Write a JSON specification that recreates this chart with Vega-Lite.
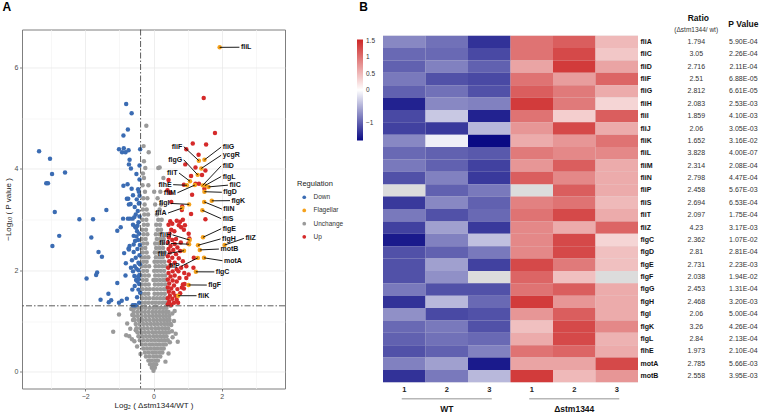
{
"$schema": "https://vega.github.io/schema/vega-lite/v6.json",
"padding": {"left": 1, "top": 0.5, "right": 0, "bottom": 0},
"config": {"font": "Liberation Sans", "view": {"stroke": null}},
"spacing": 12,
"resolve": {"scale": {"color": "independent"}, "legend": {"color": "independent"}},
"datasets": {
"volcano": [
{"x":0,"y":0.02,"reg":"Unchange"},
{"x":-0.05,"y":0.08,"reg":"Unchange"},{"x":0.04,"y":0.08,"reg":"Unchange"},
{"x":-0.1,"y":0.15,"reg":"Unchange"},{"x":0,"y":0.15,"reg":"Unchange"},{"x":0.08,"y":0.15,"reg":"Unchange"},
{"x":-0.15,"y":0.22,"reg":"Unchange"},{"x":-0.05,"y":0.22,"reg":"Unchange"},{"x":0.05,"y":0.22,"reg":"Unchange"},{"x":0.13,"y":0.22,"reg":"Unchange"},
{"x":-0.22,"y":0.3,"reg":"Unchange"},{"x":-0.11,"y":0.3,"reg":"Unchange"},{"x":0,"y":0.3,"reg":"Unchange"},{"x":0.1,"y":0.3,"reg":"Unchange"},{"x":0.2,"y":0.3,"reg":"Unchange"},
{"x":-0.25,"y":0.38,"reg":"Unchange"},{"x":-0.14,"y":0.38,"reg":"Unchange"},{"x":-0.03,"y":0.38,"reg":"Unchange"},{"x":0.07,"y":0.38,"reg":"Unchange"},{"x":0.17,"y":0.38,"reg":"Unchange"},{"x":0.26,"y":0.38,"reg":"Unchange"},
{"x":-0.3,"y":0.46,"reg":"Unchange"},{"x":-0.19,"y":0.46,"reg":"Unchange"},{"x":-0.08,"y":0.46,"reg":"Unchange"},{"x":0.02,"y":0.46,"reg":"Unchange"},{"x":0.12,"y":0.46,"reg":"Unchange"},{"x":0.22,"y":0.46,"reg":"Unchange"},{"x":0.3,"y":0.46,"reg":"Unchange"},
{"x":-0.34,"y":0.54,"reg":"Unchange"},{"x":-0.23,"y":0.54,"reg":"Unchange"},{"x":-0.12,"y":0.54,"reg":"Unchange"},{"x":-0.02,"y":0.54,"reg":"Unchange"},{"x":0.08,"y":0.54,"reg":"Unchange"},{"x":0.18,"y":0.54,"reg":"Unchange"},{"x":0.28,"y":0.54,"reg":"Unchange"},{"x":0.36,"y":0.54,"reg":"Unchange"},
{"x":-0.4,"y":0.62,"reg":"Unchange"},{"x":-0.29,"y":0.62,"reg":"Unchange"},{"x":-0.18,"y":0.62,"reg":"Unchange"},{"x":-0.07,"y":0.62,"reg":"Unchange"},{"x":0.04,"y":0.62,"reg":"Unchange"},{"x":0.14,"y":0.62,"reg":"Unchange"},{"x":0.24,"y":0.62,"reg":"Unchange"},{"x":0.33,"y":0.62,"reg":"Unchange"},{"x":0.42,"y":0.62,"reg":"Unchange"},
{"x":-0.44,"y":0.7,"reg":"Unchange"},{"x":-0.33,"y":0.7,"reg":"Unchange"},{"x":-0.22,"y":0.7,"reg":"Unchange"},{"x":-0.11,"y":0.7,"reg":"Unchange"},{"x":0,"y":0.7,"reg":"Unchange"},{"x":0.1,"y":0.7,"reg":"Unchange"},{"x":0.2,"y":0.7,"reg":"Unchange"},{"x":0.3,"y":0.7,"reg":"Unchange"},{"x":0.38,"y":0.7,"reg":"Unchange"},
{"x":-0.47,"y":0.78,"reg":"Unchange"},{"x":-0.36,"y":0.78,"reg":"Unchange"},{"x":-0.25,"y":0.78,"reg":"Unchange"},{"x":-0.14,"y":0.78,"reg":"Unchange"},{"x":-0.03,"y":0.78,"reg":"Unchange"},{"x":0.07,"y":0.78,"reg":"Unchange"},{"x":0.17,"y":0.78,"reg":"Unchange"},{"x":0.27,"y":0.78,"reg":"Unchange"},{"x":0.36,"y":0.78,"reg":"Unchange"},{"x":0.45,"y":0.78,"reg":"Unchange"},
{"x":-0.5,"y":0.86,"reg":"Unchange"},{"x":-0.39,"y":0.86,"reg":"Unchange"},{"x":-0.28,"y":0.86,"reg":"Unchange"},{"x":-0.17,"y":0.86,"reg":"Unchange"},{"x":-0.06,"y":0.86,"reg":"Unchange"},{"x":0.05,"y":0.86,"reg":"Unchange"},{"x":0.15,"y":0.86,"reg":"Unchange"},{"x":0.25,"y":0.86,"reg":"Unchange"},{"x":0.34,"y":0.86,"reg":"Unchange"},{"x":0.43,"y":0.86,"reg":"Unchange"},
{"x":-0.52,"y":0.94,"reg":"Unchange"},{"x":-0.41,"y":0.94,"reg":"Unchange"},{"x":-0.3,"y":0.94,"reg":"Unchange"},{"x":-0.19,"y":0.94,"reg":"Unchange"},{"x":-0.08,"y":0.94,"reg":"Unchange"},{"x":0.02,"y":0.94,"reg":"Unchange"},{"x":0.12,"y":0.94,"reg":"Unchange"},{"x":0.22,"y":0.94,"reg":"Unchange"},{"x":0.32,"y":0.94,"reg":"Unchange"},{"x":0.41,"y":0.94,"reg":"Unchange"},{"x":0.5,"y":0.94,"reg":"Unchange"},
{"x":-0.55,"y":1.02,"reg":"Unchange"},{"x":-0.44,"y":1.02,"reg":"Unchange"},{"x":-0.33,"y":1.02,"reg":"Unchange"},{"x":-0.22,"y":1.02,"reg":"Unchange"},{"x":-0.11,"y":1.02,"reg":"Unchange"},{"x":0,"y":1.02,"reg":"Unchange"},{"x":0.1,"y":1.02,"reg":"Unchange"},{"x":0.2,"y":1.02,"reg":"Unchange"},{"x":0.3,"y":1.02,"reg":"Unchange"},{"x":0.39,"y":1.02,"reg":"Unchange"},{"x":0.47,"y":1.02,"reg":"Unchange"},
{"x":-0.57,"y":1.1,"reg":"Unchange"},{"x":-0.46,"y":1.1,"reg":"Unchange"},{"x":-0.35,"y":1.1,"reg":"Unchange"},{"x":-0.24,"y":1.1,"reg":"Unchange"},{"x":-0.13,"y":1.1,"reg":"Unchange"},{"x":-0.02,"y":1.1,"reg":"Unchange"},{"x":0.08,"y":1.1,"reg":"Unchange"},{"x":0.18,"y":1.1,"reg":"Unchange"},{"x":0.28,"y":1.1,"reg":"Unchange"},{"x":0.37,"y":1.1,"reg":"Unchange"},{"x":0.46,"y":1.1,"reg":"Unchange"},
{"x":-0.58,"y":1.18,"reg":"Unchange"},{"x":-0.47,"y":1.18,"reg":"Unchange"},{"x":-0.36,"y":1.18,"reg":"Unchange"},{"x":-0.25,"y":1.18,"reg":"Unchange"},{"x":-0.14,"y":1.18,"reg":"Unchange"},{"x":-0.03,"y":1.18,"reg":"Unchange"},{"x":0.07,"y":1.18,"reg":"Unchange"},{"x":0.17,"y":1.18,"reg":"Unchange"},{"x":0.27,"y":1.18,"reg":"Unchange"},{"x":0.36,"y":1.18,"reg":"Unchange"},{"x":0.44,"y":1.18,"reg":"Unchange"},
{"x":-0.56,"y":1.26,"reg":"Unchange"},{"x":-0.45,"y":1.26,"reg":"Unchange"},{"x":-0.34,"y":1.26,"reg":"Unchange"},{"x":-0.23,"y":1.26,"reg":"Unchange"},{"x":-0.12,"y":1.26,"reg":"Unchange"},{"x":-0.01,"y":1.26,"reg":"Unchange"},{"x":0.09,"y":1.26,"reg":"Unchange"},{"x":0.19,"y":1.26,"reg":"Unchange"},{"x":0.29,"y":1.26,"reg":"Unchange"},{"x":0.38,"y":1.26,"reg":"Unchange"},
{"x":-1.18,"y":0.79,"reg":"Unchange"},{"x":-1.01,"y":1.13,"reg":"Unchange"},{"x":-0.77,"y":0.95,"reg":"Unchange"},{"x":-0.71,"y":0.7,"reg":"Unchange"},{"x":-0.56,"y":0.6,"reg":"Unchange"},{"x":-0.62,"y":1.12,"reg":"Unchange"},{"x":-0.8,"y":0.72,"reg":"Unchange"},{"x":-0.63,"y":0.64,"reg":"Unchange"},{"x":-0.68,"y":0.85,"reg":"Unchange"},{"x":-0.65,"y":1.24,"reg":"Unchange"},{"x":-0.6,"y":1.02,"reg":"Unchange"},{"x":-0.52,"y":0.82,"reg":"Unchange"},{"x":-0.48,"y":0.5,"reg":"Unchange"},{"x":0.54,"y":0.8,"reg":"Unchange"},{"x":0.71,"y":0.59,"reg":"Unchange"},{"x":0.56,"y":0.68,"reg":"Unchange"},{"x":0.6,"y":1.0,"reg":"Unchange"},{"x":0.55,"y":1.15,"reg":"Unchange"},{"x":0.52,"y":0.92,"reg":"Unchange"},{"x":0.65,"y":0.75,"reg":"Unchange"},{"x":0.48,"y":0.58,"reg":"Unchange"},{"x":0.44,"y":0.36,"reg":"Unchange"},{"x":0.62,"y":1.2,"reg":"Unchange"},{"x":0.5,"y":1.3,"reg":"Unchange"},{"x":-0.38,"y":0.35,"reg":"Unchange"},{"x":0.35,"y":0.2,"reg":"Unchange"},
{"x":-0.35,"y":1.36,"reg":"Unchange"},{"x":-0.25,"y":1.36,"reg":"Unchange"},{"x":-0.15,"y":1.36,"reg":"Unchange"},{"x":-0.04,"y":1.36,"reg":"Unchange"},{"x":0.06,"y":1.36,"reg":"Unchange"},{"x":0.16,"y":1.36,"reg":"Unchange"},{"x":0.26,"y":1.36,"reg":"Unchange"},{"x":0.36,"y":1.36,"reg":"Unchange"},
{"x":-0.33,"y":1.45,"reg":"Unchange"},{"x":-0.22,"y":1.45,"reg":"Unchange"},{"x":-0.12,"y":1.45,"reg":"Unchange"},{"x":0,"y":1.45,"reg":"Unchange"},{"x":0.1,"y":1.45,"reg":"Unchange"},{"x":0.2,"y":1.45,"reg":"Unchange"},{"x":0.3,"y":1.45,"reg":"Unchange"},{"x":0.39,"y":1.45,"reg":"Unchange"},
{"x":-0.35,"y":1.54,"reg":"Unchange"},{"x":-0.25,"y":1.54,"reg":"Unchange"},{"x":-0.15,"y":1.54,"reg":"Unchange"},{"x":0.03,"y":1.54,"reg":"Unchange"},{"x":0.13,"y":1.54,"reg":"Unchange"},{"x":0.23,"y":1.54,"reg":"Unchange"},{"x":0.33,"y":1.54,"reg":"Unchange"},
{"x":-0.32,"y":1.63,"reg":"Unchange"},{"x":-0.21,"y":1.63,"reg":"Unchange"},{"x":-0.11,"y":1.63,"reg":"Unchange"},{"x":0,"y":1.63,"reg":"Unchange"},{"x":0.1,"y":1.63,"reg":"Unchange"},{"x":0.2,"y":1.63,"reg":"Unchange"},{"x":0.3,"y":1.63,"reg":"Unchange"},{"x":0.38,"y":1.63,"reg":"Unchange"},
{"x":-0.34,"y":1.72,"reg":"Unchange"},{"x":-0.24,"y":1.72,"reg":"Unchange"},{"x":-0.14,"y":1.72,"reg":"Unchange"},{"x":0.04,"y":1.72,"reg":"Unchange"},{"x":0.14,"y":1.72,"reg":"Unchange"},{"x":0.24,"y":1.72,"reg":"Unchange"},{"x":0.34,"y":1.72,"reg":"Unchange"},
{"x":-0.31,"y":1.81,"reg":"Unchange"},{"x":-0.2,"y":1.81,"reg":"Unchange"},{"x":0,"y":1.81,"reg":"Unchange"},{"x":0.09,"y":1.81,"reg":"Unchange"},{"x":0.19,"y":1.81,"reg":"Unchange"},{"x":0.29,"y":1.81,"reg":"Unchange"},{"x":0.37,"y":1.81,"reg":"Unchange"},
{"x":-0.35,"y":1.9,"reg":"Unchange"},{"x":-0.25,"y":1.9,"reg":"Unchange"},{"x":-0.14,"y":1.9,"reg":"Unchange"},{"x":0.05,"y":1.9,"reg":"Unchange"},{"x":0.15,"y":1.9,"reg":"Unchange"},{"x":0.25,"y":1.9,"reg":"Unchange"},{"x":0.34,"y":1.9,"reg":"Unchange"},
{"x":-0.3,"y":1.99,"reg":"Unchange"},{"x":-0.19,"y":1.99,"reg":"Unchange"},{"x":0.02,"y":1.99,"reg":"Unchange"},{"x":0.11,"y":1.99,"reg":"Unchange"},{"x":0.21,"y":1.99,"reg":"Unchange"},{"x":0.31,"y":1.99,"reg":"Unchange"},
{"x":-0.34,"y":2.08,"reg":"Unchange"},{"x":-0.24,"y":2.08,"reg":"Unchange"},{"x":-0.13,"y":2.08,"reg":"Unchange"},{"x":0.06,"y":2.08,"reg":"Unchange"},{"x":0.16,"y":2.08,"reg":"Unchange"},{"x":0.26,"y":2.08,"reg":"Unchange"},{"x":0.36,"y":2.08,"reg":"Unchange"},
{"x":-0.3,"y":2.17,"reg":"Unchange"},{"x":-0.2,"y":2.17,"reg":"Unchange"},{"x":0.03,"y":2.17,"reg":"Unchange"},{"x":0.12,"y":2.17,"reg":"Unchange"},{"x":0.22,"y":2.17,"reg":"Unchange"},{"x":0.32,"y":2.17,"reg":"Unchange"},
{"x":-0.35,"y":2.26,"reg":"Unchange"},{"x":-0.25,"y":2.26,"reg":"Unchange"},{"x":-0.15,"y":2.26,"reg":"Unchange"},{"x":0.07,"y":2.26,"reg":"Unchange"},{"x":0.17,"y":2.26,"reg":"Unchange"},{"x":0.27,"y":2.26,"reg":"Unchange"},
{"x":-0.31,"y":2.35,"reg":"Unchange"},{"x":-0.2,"y":2.35,"reg":"Unchange"},{"x":0.04,"y":2.35,"reg":"Unchange"},{"x":0.13,"y":2.35,"reg":"Unchange"},{"x":0.23,"y":2.35,"reg":"Unchange"},{"x":0.33,"y":2.35,"reg":"Unchange"},
{"x":-0.34,"y":2.44,"reg":"Unchange"},{"x":-0.24,"y":2.44,"reg":"Unchange"},{"x":0.08,"y":2.44,"reg":"Unchange"},{"x":0.18,"y":2.44,"reg":"Unchange"},{"x":0.28,"y":2.44,"reg":"Unchange"},
{"x":-0.3,"y":2.53,"reg":"Unchange"},{"x":-0.19,"y":2.53,"reg":"Unchange"},{"x":0.05,"y":2.53,"reg":"Unchange"},{"x":0.15,"y":2.53,"reg":"Unchange"},{"x":0.25,"y":2.53,"reg":"Unchange"},
{"x":-0.34,"y":2.62,"reg":"Unchange"},{"x":-0.23,"y":2.62,"reg":"Unchange"},{"x":0.1,"y":2.62,"reg":"Unchange"},{"x":0.2,"y":2.62,"reg":"Unchange"},{"x":0.3,"y":2.62,"reg":"Unchange"},
{"x":-0.29,"y":2.71,"reg":"Unchange"},{"x":-0.18,"y":2.71,"reg":"Unchange"},{"x":0.07,"y":2.71,"reg":"Unchange"},{"x":0.17,"y":2.71,"reg":"Unchange"},
{"x":-0.33,"y":2.8,"reg":"Unchange"},{"x":-0.22,"y":2.8,"reg":"Unchange"},{"x":0.12,"y":2.8,"reg":"Unchange"},{"x":0.22,"y":2.8,"reg":"Unchange"},
{"x":-0.28,"y":2.9,"reg":"Unchange"},{"x":-0.17,"y":2.9,"reg":"Unchange"},{"x":0.08,"y":2.9,"reg":"Unchange"},{"x":0.19,"y":2.9,"reg":"Unchange"},
{"x":-0.32,"y":3.0,"reg":"Unchange"},{"x":-0.21,"y":3.0,"reg":"Unchange"},{"x":0.14,"y":3.0,"reg":"Unchange"},{"x":0.24,"y":3.0,"reg":"Unchange"},
{"x":-0.27,"y":3.1,"reg":"Unchange"},{"x":-0.16,"y":3.1,"reg":"Unchange"},{"x":0.1,"y":3.1,"reg":"Unchange"},
{"x":-0.31,"y":3.2,"reg":"Unchange"},{"x":-0.2,"y":3.2,"reg":"Unchange"},{"x":0.18,"y":3.2,"reg":"Unchange"},
{"x":-0.26,"y":3.3,"reg":"Unchange"},{"x":0.05,"y":3.3,"reg":"Unchange"},{"x":0.22,"y":3.3,"reg":"Unchange"},
{"x":-0.3,"y":3.42,"reg":"Unchange"},{"x":-0.18,"y":3.42,"reg":"Unchange"},{"x":0.12,"y":3.42,"reg":"Unchange"},
{"x":-0.25,"y":3.55,"reg":"Unchange"},{"x":0.02,"y":3.55,"reg":"Unchange"},{"x":0.2,"y":3.55,"reg":"Unchange"},
{"x":-0.32,"y":3.68,"reg":"Unchange"},{"x":-0.15,"y":3.68,"reg":"Unchange"},
{"x":-0.28,"y":3.82,"reg":"Unchange"},{"x":0.29,"y":3.82,"reg":"Unchange"},
{"x":-0.31,"y":3.91,"reg":"Unchange"},
{"x":-0.24,"y":4.02,"reg":"Unchange"},{"x":0.14,"y":4.02,"reg":"Unchange"},{"x":0.18,"y":4.03,"reg":"Unchange"},
{"x":-0.28,"y":4.15,"reg":"Unchange"},{"x":-0.14,"y":4.33,"reg":"Unchange"},{"x":-0.29,"y":4.45,"reg":"Unchange"},{"x":-0.21,"y":4.85,"reg":"Unchange"},
{"x":-3.35,"y":4.35,"reg":"Down"},{"x":-3.03,"y":4.2,"reg":"Down"},{"x":-2.97,"y":3.9,"reg":"Down"},{"x":-2.59,"y":3.93,"reg":"Down"},{"x":-3.14,"y":3.72,"reg":"Down"},{"x":-3.09,"y":3.72,"reg":"Down"},
{"x":-0.8,"y":5.28,"reg":"Down"},{"x":-0.64,"y":5.1,"reg":"Down"},{"x":-0.75,"y":4.78,"reg":"Down"},{"x":-0.88,"y":4.66,"reg":"Down"},
{"x":-1.01,"y":4.39,"reg":"Down"},{"x":-0.87,"y":4.41,"reg":"Down"},{"x":-0.92,"y":4.33,"reg":"Down"},{"x":-0.82,"y":4.33,"reg":"Down"},{"x":-0.73,"y":4.37,"reg":"Down"},{"x":-0.39,"y":4.39,"reg":"Down"},
{"x":-0.7,"y":4.18,"reg":"Down"},{"x":-0.72,"y":4.09,"reg":"Down"},{"x":-0.66,"y":4.01,"reg":"Down"},{"x":-0.41,"y":4.07,"reg":"Down"},{"x":-0.41,"y":3.79,"reg":"Down"},
{"x":-0.88,"y":3.67,"reg":"Down"},{"x":-0.76,"y":3.7,"reg":"Down"},{"x":-0.64,"y":3.61,"reg":"Down"},{"x":-0.78,"y":3.41,"reg":"Down"},{"x":-0.74,"y":3.41,"reg":"Down"},{"x":-0.6,"y":3.48,"reg":"Down"},{"x":-0.72,"y":3.3,"reg":"Down"},{"x":-0.41,"y":3.47,"reg":"Down"},{"x":-0.41,"y":3.33,"reg":"Down"},
{"x":-2.89,"y":3.15,"reg":"Down"},{"x":-2.17,"y":3.01,"reg":"Down"},{"x":-1.77,"y":3.01,"reg":"Down"},{"x":-1.38,"y":3.19,"reg":"Down"},{"x":-2.76,"y":2.68,"reg":"Down"},{"x":-1.82,"y":2.65,"reg":"Down"},{"x":-2.96,"y":2.48,"reg":"Down"},{"x":-1.61,"y":2.36,"reg":"Down"},{"x":-1.51,"y":2.27,"reg":"Down"},
{"x":-1.06,"y":2.78,"reg":"Down"},{"x":-0.96,"y":2.85,"reg":"Down"},{"x":-0.89,"y":3.02,"reg":"Down"},{"x":-0.75,"y":3.02,"reg":"Down"},{"x":-0.69,"y":3.02,"reg":"Down"},{"x":-0.61,"y":3.02,"reg":"Down"},{"x":-0.56,"y":3.05,"reg":"Down"},
{"x":-0.86,"y":2.34,"reg":"Down"},{"x":-0.73,"y":2.43,"reg":"Down"},{"x":-0.7,"y":2.48,"reg":"Down"},{"x":-0.58,"y":2.51,"reg":"Down"},{"x":-0.54,"y":2.58,"reg":"Down"},{"x":-0.5,"y":2.67,"reg":"Down"},
{"x":-0.6,"y":2.9,"reg":"Down"},{"x":-0.54,"y":2.86,"reg":"Down"},{"x":-0.51,"y":2.84,"reg":"Down"},{"x":-0.48,"y":2.77,"reg":"Down"},
{"x":-0.49,"y":3.4,"reg":"Down"},{"x":-0.67,"y":3.31,"reg":"Down"},{"x":-0.46,"y":3.17,"reg":"Down"},{"x":-0.43,"y":3.32,"reg":"Down"},{"x":-0.41,"y":3.06,"reg":"Down"},
{"x":-1.96,"y":1.84,"reg":"Down"},{"x":-1.65,"y":1.96,"reg":"Down"},{"x":-1.68,"y":1.91,"reg":"Down"},{"x":-1.55,"y":1.42,"reg":"Down"},{"x":-1.32,"y":1.54,"reg":"Down"},{"x":-1.24,"y":1.41,"reg":"Down"},{"x":-1.31,"y":1.37,"reg":"Down"},{"x":-1.06,"y":1.75,"reg":"Down"},{"x":-1.01,"y":1.36,"reg":"Down"},{"x":-0.93,"y":1.4,"reg":"Down"},{"x":-0.78,"y":1.44,"reg":"Down"},
{"x":-0.72,"y":2.41,"reg":"Down"},{"x":-0.58,"y":2.36,"reg":"Down"},{"x":-0.47,"y":2.42,"reg":"Down"},{"x":-0.81,"y":2.14,"reg":"Down"},{"x":-0.66,"y":2.05,"reg":"Down"},{"x":-0.55,"y":2.08,"reg":"Down"},{"x":-0.5,"y":2.03,"reg":"Down"},{"x":-0.44,"y":2.0,"reg":"Down"},{"x":-0.82,"y":1.9,"reg":"Down"},{"x":-0.56,"y":1.89,"reg":"Down"},{"x":-0.45,"y":1.88,"reg":"Down"},{"x":-0.41,"y":1.91,"reg":"Down"},{"x":-0.51,"y":1.81,"reg":"Down"},{"x":-0.47,"y":1.78,"reg":"Down"},{"x":-0.43,"y":1.83,"reg":"Down"},{"x":-0.55,"y":1.69,"reg":"Down"},{"x":-0.39,"y":1.56,"reg":"Down"},{"x":-0.56,"y":1.31,"reg":"Down"},{"x":-0.61,"y":1.31,"reg":"Down"},{"x":-0.52,"y":1.31,"reg":"Down"},
{"x":-0.42,"y":1.36,"reg":"Down"},{"x":-0.48,"y":1.47,"reg":"Down"},{"x":-0.44,"y":1.62,"reg":"Down"},{"x":-0.62,"y":1.62,"reg":"Down"},{"x":-0.42,"y":1.73,"reg":"Down"},{"x":-0.6,"y":1.98,"reg":"Down"},{"x":-0.44,"y":2.15,"reg":"Down"},{"x":-0.52,"y":2.25,"reg":"Down"},{"x":-0.41,"y":2.3,"reg":"Down"},{"x":-0.63,"y":2.2,"reg":"Down"},{"x":-0.45,"y":2.6,"reg":"Down"},{"x":-0.42,"y":2.72,"reg":"Down"},{"x":-0.58,"y":2.68,"reg":"Down"},{"x":-0.44,"y":2.95,"reg":"Down"},{"x":-0.52,"y":3.1,"reg":"Down"},{"x":-0.55,"y":3.25,"reg":"Down"},{"x":-0.45,"y":3.6,"reg":"Down"},{"x":-0.5,"y":3.9,"reg":"Down"},{"x":-0.43,"y":3.55,"reg":"Down"},{"x":-0.4,"y":2.5,"reg":"Down"},{"x":-0.47,"y":2.88,"reg":"Down"},{"x":-0.4,"y":2.12,"reg":"Down"},
{"x":1.47,"y":5.4,"reg":"Up"},{"x":1.8,"y":4.71,"reg":"Up"},{"x":1.15,"y":4.5,"reg":"Up"},{"x":1.54,"y":4.48,"reg":"Up"},{"x":0.96,"y":4.39,"reg":"Up"},{"x":1.32,"y":4.28,"reg":"Up"},{"x":1.52,"y":3.97,"reg":"Up"},{"x":1.23,"y":4.03,"reg":"Up"},{"x":1.42,"y":3.88,"reg":"Up"},{"x":0.93,"y":4.09,"reg":"Up"},{"x":1.1,"y":3.86,"reg":"Up"},{"x":0.44,"y":3.78,"reg":"Up"},{"x":1.33,"y":3.71,"reg":"Up"},{"x":1.23,"y":3.71,"reg":"Up"},{"x":1.49,"y":3.61,"reg":"Up"},{"x":0.89,"y":3.69,"reg":"Up"},{"x":0.41,"y":3.58,"reg":"Up"},{"x":0.49,"y":3.53,"reg":"Up"},{"x":1.13,"y":3.49,"reg":"Up"},{"x":0.52,"y":3.35,"reg":"Up"},{"x":0.84,"y":3.26,"reg":"Up"},
{"x":1.1,"y":3.11,"reg":"Up"},{"x":1.52,"y":3.01,"reg":"Up"},{"x":0.49,"y":2.97,"reg":"Up"},{"x":0.44,"y":2.9,"reg":"Up"},{"x":0.55,"y":2.92,"reg":"Up"},{"x":0.68,"y":2.98,"reg":"Up"},{"x":0.78,"y":2.96,"reg":"Up"},{"x":0.86,"y":3.0,"reg":"Up"},{"x":0.92,"y":2.89,"reg":"Up"},{"x":0.81,"y":2.85,"reg":"Up"},{"x":0.89,"y":2.8,"reg":"Up"},{"x":0.74,"y":2.89,"reg":"Up"},{"x":0.52,"y":2.8,"reg":"Up"},{"x":0.61,"y":2.77,"reg":"Up"},{"x":0.47,"y":2.72,"reg":"Up"},{"x":1.03,"y":2.72,"reg":"Up"},{"x":1.05,"y":2.63,"reg":"Up"},{"x":0.83,"y":3.19,"reg":"Up"},
{"x":0.45,"y":2.65,"reg":"Up"},{"x":0.55,"y":2.6,"reg":"Up"},{"x":0.42,"y":2.55,"reg":"Up"},{"x":0.62,"y":2.52,"reg":"Up"},{"x":0.5,"y":2.48,"reg":"Up"},{"x":0.7,"y":2.45,"reg":"Up"},{"x":0.44,"y":2.42,"reg":"Up"},{"x":0.58,"y":2.4,"reg":"Up"},{"x":0.78,"y":2.38,"reg":"Up"},{"x":0.48,"y":2.35,"reg":"Up"},{"x":0.66,"y":2.32,"reg":"Up"},{"x":0.42,"y":2.28,"reg":"Up"},{"x":0.55,"y":2.25,"reg":"Up"},{"x":0.74,"y":2.24,"reg":"Up"},{"x":1.18,"y":2.25,"reg":"Up"},{"x":0.86,"y":2.18,"reg":"Up"},{"x":0.46,"y":2.18,"reg":"Up"},{"x":0.62,"y":2.15,"reg":"Up"},{"x":0.96,"y":2.08,"reg":"Up"},{"x":0.81,"y":2.05,"reg":"Up"},{"x":0.5,"y":2.1,"reg":"Up"},{"x":0.43,"y":2.05,"reg":"Up"},{"x":0.68,"y":2.02,"reg":"Up"},{"x":0.56,"y":1.98,"reg":"Up"},{"x":0.73,"y":1.98,"reg":"Up"},{"x":1.03,"y":1.92,"reg":"Up"},{"x":0.44,"y":1.95,"reg":"Up"},{"x":0.62,"y":1.9,"reg":"Up"},{"x":0.5,"y":1.88,"reg":"Up"},{"x":0.96,"y":1.85,"reg":"Up"},{"x":0.76,"y":1.85,"reg":"Up"},{"x":0.42,"y":1.82,"reg":"Up"},{"x":0.56,"y":1.8,"reg":"Up"},{"x":0.68,"y":1.78,"reg":"Up"},{"x":0.86,"y":1.72,"reg":"Up"},{"x":0.46,"y":1.74,"reg":"Up"},{"x":0.6,"y":1.7,"reg":"Up"},{"x":0.83,"y":1.66,"reg":"Up"},{"x":0.42,"y":1.66,"reg":"Up"},{"x":0.52,"y":1.64,"reg":"Up"},{"x":0.7,"y":1.63,"reg":"Up"},{"x":0.45,"y":1.58,"reg":"Up"},{"x":0.58,"y":1.56,"reg":"Up"},{"x":0.64,"y":1.5,"reg":"Up"},{"x":0.48,"y":1.5,"reg":"Up"},{"x":0.42,"y":1.45,"reg":"Up"},{"x":0.55,"y":1.44,"reg":"Up"},{"x":0.68,"y":1.42,"reg":"Up"},{"x":0.46,"y":1.38,"reg":"Up"},{"x":0.6,"y":1.36,"reg":"Up"},{"x":0.42,"y":1.33,"reg":"Up"},{"x":0.52,"y":1.32,"reg":"Up"},{"x":0.72,"y":1.36,"reg":"Up"},{"x":0.78,"y":1.55,"reg":"Up"},{"x":0.9,"y":1.95,"reg":"Up"},{"x":0.66,"y":2.62,"reg":"Up"},{"x":0.8,"y":2.55,"reg":"Up"},{"x":1.17,"y":2.05,"reg":"Up"},{"x":1.02,"y":2.53,"reg":"Up"},{"x":0.91,"y":1.73,"reg":"Up"},{"x":0.89,"y":1.64,"reg":"Up"},
{"x":1.937,"y":6.398,"reg":"Flagellar"},{"x":1.328,"y":4.162,"reg":"Flagellar"},{"x":1.492,"y":4.18,"reg":"Flagellar"},{"x":1.4,"y":4.01,"reg":"Flagellar"},{"x":1.294,"y":3.883,"reg":"Flagellar"},{"x":1.441,"y":3.676,"reg":"Flagellar"},{"x":1.506,"y":3.672,"reg":"Flagellar"},{"x":1.068,"y":3.757,"reg":"Flagellar"},{"x":0.98,"y":3.678,"reg":"Flagellar"},{"x":1.609,"y":3.646,"reg":"Flagellar"},{"x":1.21,"y":3.682,"reg":"Flagellar"},{"x":1.491,"y":3.551,"reg":"Flagellar"},{"x":1.043,"y":3.301,"reg":"Flagellar"},{"x":1.705,"y":3.371,"reg":"Flagellar"},{"x":1.484,"y":3.35,"reg":"Flagellar"},{"x":0.843,"y":3.229,"reg":"Flagellar"},{"x":1.43,"y":3.185,"reg":"Flagellar"},{"x":1.449,"y":2.652,"reg":"Flagellar"},{"x":1.059,"y":2.597,"reg":"Flagellar"},{"x":2.081,"y":2.499,"reg":"Flagellar"},{"x":1.303,"y":2.495,"reg":"Flagellar"},{"x":1.043,"y":2.516,"reg":"Flagellar"},{"x":1.355,"y":2.403,"reg":"Flagellar"},{"x":0.894,"y":2.387,"reg":"Flagellar"},{"x":1.478,"y":2.247,"reg":"Flagellar"},{"x":1.297,"y":2.246,"reg":"Flagellar"},{"x":1.24,"y":1.971,"reg":"Flagellar"},{"x":1.027,"y":1.712,"reg":"Flagellar"},{"x":0.724,"y":1.5,"reg":"Flagellar"}
],
"labels": [
{"gene":"fliL","x":1.937,"y":6.398,"lx":2.515,"ly":6.4},
{"gene":"fliF","x":1.328,"y":4.162,"lx":0.886,"ly":4.44},
{"gene":"fliG","x":1.492,"y":4.18,"lx":1.98,"ly":4.43},
{"gene":"ycgR","x":1.4,"y":4.01,"lx":1.98,"ly":4.27},
{"gene":"flgG","x":1.294,"y":3.883,"lx":0.886,"ly":4.18},
{"gene":"fliD","x":1.441,"y":3.676,"lx":1.98,"ly":4.06},
{"gene":"flgL","x":1.506,"y":3.672,"lx":1.98,"ly":3.85},
{"gene":"fliT","x":1.068,"y":3.757,"lx":0.746,"ly":3.92},
{"gene":"flhE","x":0.98,"y":3.678,"lx":0.576,"ly":3.69},
{"gene":"fliC","x":1.609,"y":3.646,"lx":2.18,"ly":3.68},
{"gene":"fliM","x":1.21,"y":3.682,"lx":0.7,"ly":3.53},
{"gene":"flgD","x":1.491,"y":3.551,"lx":2.0,"ly":3.54},
{"gene":"flgI","x":1.043,"y":3.301,"lx":0.51,"ly":3.32},
{"gene":"flgK","x":1.705,"y":3.371,"lx":2.24,"ly":3.375},
{"gene":"fliN","x":1.484,"y":3.35,"lx":2.0,"ly":3.21},
{"gene":"fliA","x":0.843,"y":3.229,"lx":0.424,"ly":3.13},
{"gene":"fliS","x":1.43,"y":3.185,"lx":1.98,"ly":3.02},
{"gene":"flgE","x":1.449,"y":2.652,"lx":1.98,"ly":2.82},
{"gene":"fliH","x":1.059,"y":2.597,"lx":0.555,"ly":2.7},
{"gene":"fliZ","x":2.081,"y":2.499,"lx":2.646,"ly":2.63},
{"gene":"flgH","x":1.303,"y":2.495,"lx":1.965,"ly":2.62},
{"gene":"fliJ","x":1.043,"y":2.516,"lx":0.51,"ly":2.53},
{"gene":"motB","x":1.355,"y":2.403,"lx":1.915,"ly":2.42},
{"gene":"fliI","x":0.894,"y":2.387,"lx":0.41,"ly":2.33},
{"gene":"motA","x":1.478,"y":2.247,"lx":2.02,"ly":2.19},
{"gene":"fliP","x":1.297,"y":2.246,"lx":0.81,"ly":2.08},
{"gene":"flgC","x":1.24,"y":1.971,"lx":1.78,"ly":1.97},
{"gene":"flgF","x":1.027,"y":1.712,"lx":1.56,"ly":1.71},
{"gene":"fliK","x":0.724,"y":1.5,"lx":1.26,"ly":1.5}
],
"heat": [
{"gene":"fliA","sample":"WT1","z":-0.75},{"gene":"fliA","sample":"WT2","z":-0.9},{"gene":"fliA","sample":"WT3","z":-1.3},{"gene":"fliA","sample":"D1","z":1.0},{"gene":"fliA","sample":"D2","z":1.15},{"gene":"fliA","sample":"D3","z":0.5},
{"gene":"fliC","sample":"WT1","z":-0.95},{"gene":"fliC","sample":"WT2","z":-0.95},{"gene":"fliC","sample":"WT3","z":-1.15},{"gene":"fliC","sample":"D1","z":1.0},{"gene":"fliC","sample":"D2","z":1.3},{"gene":"fliC","sample":"D3","z":0.4},
{"gene":"fliD","sample":"WT1","z":-1.0},{"gene":"fliD","sample":"WT2","z":-0.8},{"gene":"fliD","sample":"WT3","z":-1.0},{"gene":"fliD","sample":"D1","z":0.65},{"gene":"fliD","sample":"D2","z":1.4},{"gene":"fliD","sample":"D3","z":0.65},
{"gene":"fliF","sample":"WT1","z":-0.85},{"gene":"fliF","sample":"WT2","z":-1.1},{"gene":"fliF","sample":"WT3","z":-1.15},{"gene":"fliF","sample":"D1","z":1.0},{"gene":"fliF","sample":"D2","z":0.7},{"gene":"fliF","sample":"D3","z":1.1},
{"gene":"fliG","sample":"WT1","z":-1.0},{"gene":"fliG","sample":"WT2","z":-0.9},{"gene":"fliG","sample":"WT3","z":-1.1},{"gene":"fliG","sample":"D1","z":1.15},{"gene":"fliG","sample":"D2","z":0.95},{"gene":"fliG","sample":"D3","z":0.6},
{"gene":"fliH","sample":"WT1","z":-1.4},{"gene":"fliH","sample":"WT2","z":-0.75},{"gene":"fliH","sample":"WT3","z":-0.8},{"gene":"fliH","sample":"D1","z":1.4},{"gene":"fliH","sample":"D2","z":0.95},{"gene":"fliH","sample":"D3","z":0.3},
{"gene":"fliI","sample":"WT1","z":-1.15},{"gene":"fliI","sample":"WT2","z":-0.35},{"gene":"fliI","sample":"WT3","z":-1.4},{"gene":"fliI","sample":"D1","z":1.0},{"gene":"fliI","sample":"D2","z":0.35},{"gene":"fliI","sample":"D3","z":1.15},
{"gene":"fliJ","sample":"WT1","z":-1.2},{"gene":"fliJ","sample":"WT2","z":-1.25},{"gene":"fliJ","sample":"WT3","z":-0.45},{"gene":"fliJ","sample":"D1","z":0.75},{"gene":"fliJ","sample":"D2","z":1.3},{"gene":"fliJ","sample":"D3","z":0.6},
{"gene":"fliK","sample":"WT1","z":-0.75},{"gene":"fliK","sample":"WT2","z":-0.1},{"gene":"fliK","sample":"WT3","z":-1.65},{"gene":"fliK","sample":"D1","z":0.6},{"gene":"fliK","sample":"D2","z":0.75},{"gene":"fliK","sample":"D3","z":1.0},
{"gene":"fliL","sample":"WT1","z":-0.95},{"gene":"fliL","sample":"WT2","z":-1.0},{"gene":"fliL","sample":"WT3","z":-1.05},{"gene":"fliL","sample":"D1","z":0.95},{"gene":"fliL","sample":"D2","z":0.85},{"gene":"fliL","sample":"D3","z":0.85},
{"gene":"fliM","sample":"WT1","z":-0.85},{"gene":"fliM","sample":"WT2","z":-1.0},{"gene":"fliM","sample":"WT3","z":-1.2},{"gene":"fliM","sample":"D1","z":0.75},{"gene":"fliM","sample":"D2","z":1.15},{"gene":"fliM","sample":"D3","z":0.6},
{"gene":"fliN","sample":"WT1","z":-1.1},{"gene":"fliN","sample":"WT2","z":-0.8},{"gene":"fliN","sample":"WT3","z":-1.25},{"gene":"fliN","sample":"D1","z":1.15},{"gene":"fliN","sample":"D2","z":0.85},{"gene":"fliN","sample":"D3","z":0.6},
{"gene":"fliP","sample":"WT1","z":null},{"gene":"fliP","sample":"WT2","z":-1.0},{"gene":"fliP","sample":"WT3","z":-0.85},{"gene":"fliP","sample":"D1","z":null},{"gene":"fliP","sample":"D2","z":1.15},{"gene":"fliP","sample":"D3","z":0.6},
{"gene":"fliS","sample":"WT1","z":-1.25},{"gene":"fliS","sample":"WT2","z":-0.75},{"gene":"fliS","sample":"WT3","z":-1.0},{"gene":"fliS","sample":"D1","z":0.9},{"gene":"fliS","sample":"D2","z":1.0},{"gene":"fliS","sample":"D3","z":0.5},
{"gene":"fliT","sample":"WT1","z":-0.85},{"gene":"fliT","sample":"WT2","z":-1.1},{"gene":"fliT","sample":"WT3","z":-0.95},{"gene":"fliT","sample":"D1","z":1.0},{"gene":"fliT","sample":"D2","z":1.3},{"gene":"fliT","sample":"D3","z":0.6},
{"gene":"fliZ","sample":"WT1","z":-1.2},{"gene":"fliZ","sample":"WT2","z":-0.6},{"gene":"fliZ","sample":"WT3","z":-1.25},{"gene":"fliZ","sample":"D1","z":0.85},{"gene":"fliZ","sample":"D2","z":0.6},{"gene":"fliZ","sample":"D3","z":1.1},
{"gene":"flgC","sample":"WT1","z":-1.45},{"gene":"flgC","sample":"WT2","z":-0.8},{"gene":"flgC","sample":"WT3","z":-0.4},{"gene":"flgC","sample":"D1","z":0.85},{"gene":"flgC","sample":"D2","z":1.3},{"gene":"flgC","sample":"D3","z":0.3},
{"gene":"flgD","sample":"WT1","z":-1.1},{"gene":"flgD","sample":"WT2","z":-1.0},{"gene":"flgD","sample":"WT3","z":-0.85},{"gene":"flgD","sample":"D1","z":0.85},{"gene":"flgD","sample":"D2","z":1.3},{"gene":"flgD","sample":"D3","z":0.45},
{"gene":"flgE","sample":"WT1","z":-1.1},{"gene":"flgE","sample":"WT2","z":-0.6},{"gene":"flgE","sample":"WT3","z":-1.2},{"gene":"flgE","sample":"D1","z":1.3},{"gene":"flgE","sample":"D2","z":0.95},{"gene":"flgE","sample":"D3","z":0.45},
{"gene":"flgF","sample":"WT1","z":-1.1},{"gene":"flgF","sample":"WT2","z":-0.7},{"gene":"flgF","sample":"WT3","z":null},{"gene":"flgF","sample":"D1","z":1.1},{"gene":"flgF","sample":"D2","z":0.45},{"gene":"flgF","sample":"D3","z":null},
{"gene":"flgG","sample":"WT1","z":-0.85},{"gene":"flgG","sample":"WT2","z":-1.1},{"gene":"flgG","sample":"WT3","z":-1.1},{"gene":"flgG","sample":"D1","z":1.0},{"gene":"flgG","sample":"D2","z":1.15},{"gene":"flgG","sample":"D3","z":0.6},
{"gene":"flgH","sample":"WT1","z":-1.3},{"gene":"flgH","sample":"WT2","z":-0.45},{"gene":"flgH","sample":"WT3","z":-0.95},{"gene":"flgH","sample":"D1","z":1.4},{"gene":"flgH","sample":"D2","z":0.75},{"gene":"flgH","sample":"D3","z":0.6},
{"gene":"flgI","sample":"WT1","z":-0.7},{"gene":"flgI","sample":"WT2","z":-1.15},{"gene":"flgI","sample":"WT3","z":-1.1},{"gene":"flgI","sample":"D1","z":0.75},{"gene":"flgI","sample":"D2","z":1.15},{"gene":"flgI","sample":"D3","z":0.6},
{"gene":"flgK","sample":"WT1","z":-0.95},{"gene":"flgK","sample":"WT2","z":-0.85},{"gene":"flgK","sample":"WT3","z":-1.1},{"gene":"flgK","sample":"D1","z":0.45},{"gene":"flgK","sample":"D2","z":1.3},{"gene":"flgK","sample":"D3","z":0.85},
{"gene":"flgL","sample":"WT1","z":-1.0},{"gene":"flgL","sample":"WT2","z":-0.9},{"gene":"flgL","sample":"WT3","z":-0.95},{"gene":"flgL","sample":"D1","z":0.6},{"gene":"flgL","sample":"D2","z":1.3},{"gene":"flgL","sample":"D3","z":0.55},
{"gene":"flhE","sample":"WT1","z":-1.1},{"gene":"flhE","sample":"WT2","z":-1.0},{"gene":"flhE","sample":"WT3","z":-0.8},{"gene":"flhE","sample":"D1","z":1.0},{"gene":"flhE","sample":"D2","z":1.1},{"gene":"flhE","sample":"D3","z":0.6},
{"gene":"motA","sample":"WT1","z":-0.8},{"gene":"motA","sample":"WT2","z":-0.6},{"gene":"motA","sample":"WT3","z":-1.45},{"gene":"motA","sample":"D1","z":0.65},{"gene":"motA","sample":"D2","z":0.65},{"gene":"motA","sample":"D3","z":1.3},
{"gene":"motB","sample":"WT1","z":-1.3},{"gene":"motB","sample":"WT2","z":-0.85},{"gene":"motB","sample":"WT3","z":-0.45},{"gene":"motB","sample":"D1","z":1.4},{"gene":"motB","sample":"D2","z":0.5},{"gene":"motB","sample":"D3","z":0.75}
],
"table": [
{"gene":"fliA","ratio":"1.794","pvalue":"5.90E-04"},{"gene":"fliC","ratio":"3.05","pvalue":"2.26E-04"},{"gene":"fliD","ratio":"2.716","pvalue":"2.11E-04"},{"gene":"fliF","ratio":"2.51","pvalue":"6.88E-05"},{"gene":"fliG","ratio":"2.812","pvalue":"6.61E-05"},{"gene":"fliH","ratio":"2.083","pvalue":"2.53E-03"},{"gene":"fliI","ratio":"1.859","pvalue":"4.10E-03"},{"gene":"fliJ","ratio":"2.06","pvalue":"3.05E-03"},{"gene":"fliK","ratio":"1.652","pvalue":"3.16E-02"},{"gene":"fliL","ratio":"3.828","pvalue":"4.00E-07"},{"gene":"fliM","ratio":"2.314","pvalue":"2.08E-04"},{"gene":"fliN","ratio":"2.798","pvalue":"4.47E-04"},{"gene":"fliP","ratio":"2.458","pvalue":"5.67E-03"},{"gene":"fliS","ratio":"2.694","pvalue":"6.53E-04"},{"gene":"fliT","ratio":"2.097","pvalue":"1.75E-04"},{"gene":"fliZ","ratio":"4.23","pvalue":"3.17E-03"},{"gene":"flgC","ratio":"2.362","pvalue":"1.07E-02"},{"gene":"flgD","ratio":"2.81","pvalue":"2.81E-04"},{"gene":"flgE","ratio":"2.731","pvalue":"2.23E-03"},{"gene":"flgF","ratio":"2.038","pvalue":"1.94E-02"},{"gene":"flgG","ratio":"2.453","pvalue":"1.31E-04"},{"gene":"flgH","ratio":"2.468","pvalue":"3.20E-03"},{"gene":"flgI","ratio":"2.06","pvalue":"5.00E-04"},{"gene":"flgK","ratio":"3.26","pvalue":"4.26E-04"},{"gene":"flgL","ratio":"2.84","pvalue":"2.13E-04"},{"gene":"flhE","ratio":"1.973","pvalue":"2.10E-04"},{"gene":"motA","ratio":"2.785","pvalue":"5.66E-03"},{"gene":"motB","ratio":"2.558","pvalue":"3.95E-03"}
],
"groups": [{"group":"WT"},{"group":"Δstm1344"}],
"one": [{}]
},
"hconcat": [
{
"width": 263, "height": 359,
"view": {"stroke": "#7f7f7f", "strokeWidth": 1},
"layer": [
{"data": {"name": "volcano"},
 "mark": {"type": "circle", "size": 20, "opacity": 1},
 "encoding": {
  "x": {"field": "x", "type": "quantitative", "title": "Log₂ ( Δstm1344/WT )",
        "scale": {"domain": [-3.85, 3.85], "nice": false, "zero": false},
        "axis": {"values": [-3,-2,-1,0,1,2,3], "labelExpr": "datum.value % 2 === 0 ? datum.label : ''", "domain": false,
                 "gridColor": {"condition": {"test": "datum.value % 2 !== 0", "value": "#f3f3f3"}, "value": "#e6e6e6"}, "gridWidth": 0.7,
                 "tickOpacity": {"condition": {"test": "datum.value % 2 !== 0", "value": 0}, "value": 1},
                 "tickColor": "#333", "tickSize": 2.5, "tickWidth": 0.6, "labelFontSize": 7, "labelColor": "#4d4d4d", "labelPadding": 1.5,
                 "titleFontSize": 8, "titleFontWeight": "normal", "titleColor": "#222", "titlePadding": 2}},
  "y": {"field": "y", "type": "quantitative", "title": "−Log₁₀ ( P value )",
        "scale": {"domain": [-0.33, 6.75], "nice": false, "zero": false},
        "axis": {"values": [0,1,2,3,4,5,6], "labelExpr": "datum.value % 2 === 0 ? datum.label : ''", "domain": false,
                 "gridColor": {"condition": {"test": "datum.value % 2 !== 0", "value": "#f3f3f3"}, "value": "#e6e6e6"}, "gridWidth": 0.7,
                 "tickOpacity": {"condition": {"test": "datum.value % 2 !== 0", "value": 0}, "value": 1},
                 "tickColor": "#333", "tickSize": 2.5, "tickWidth": 0.6, "labelFontSize": 7, "labelColor": "#4d4d4d", "labelPadding": 1.5,
                 "titleFontSize": 8, "titleFontWeight": "normal", "titleColor": "#222", "titlePadding": 2}},
  "color": {"field": "reg", "type": "nominal", "title": "Regulation",
            "scale": {"domain": ["Down","Flagellar","Unchange","Up"], "range": ["#3b6cb3","#f5a11c","#9a9a9a","#d52a2a"]},
            "legend": {"orient": "none", "legendX": 275, "legendY": 150, "direction": "vertical", "symbolType": "circle", "symbolSize": 14,
                       "titleFontSize": 7.5, "titleFontWeight": "normal", "titleColor": "#222", "titlePadding": 7,
                       "labelFontSize": 6.5, "labelColor": "#333", "rowPadding": 6.2, "symbolOffset": 4, "labelOffset": 6}}
 }},
{"data": {"name": "one"}, "mark": {"type": "rule", "color": "#333", "strokeDash": [6, 2, 1.5, 2], "strokeWidth": 0.8},
 "encoding": {"x": {"datum": -0.378, "type": "quantitative"}}},
{"data": {"name": "one"}, "mark": {"type": "rule", "color": "#333", "strokeDash": [6, 2, 1.5, 2], "strokeWidth": 0.8},
 "encoding": {"y": {"datum": 1.301, "type": "quantitative"}}},
{"data": {"name": "labels"}, "mark": {"type": "rule", "color": "#000", "strokeWidth": 0.9},
 "encoding": {"x": {"field": "x", "type": "quantitative", "title": "Log₂ ( Δstm1344/WT )"}, "y": {"field": "y", "type": "quantitative", "title": "−Log₁₀ ( P value )"}, "x2": {"field": "lx"}, "y2": {"field": "ly"}}},
{"data": {"name": "labels"}, "transform": [{"filter": "datum.lx > datum.x"}],
 "mark": {"type": "text", "align": "left", "baseline": "middle", "dx": 1.5, "fontSize": 7, "fontWeight": "bold", "color": "#111"},
 "encoding": {"x": {"field": "lx", "type": "quantitative", "title": "Log₂ ( Δstm1344/WT )"}, "y": {"field": "ly", "type": "quantitative", "title": "−Log₁₀ ( P value )"}, "text": {"field": "gene"}}},
{"data": {"name": "labels"}, "transform": [{"filter": "datum.lx < datum.x"}],
 "mark": {"type": "text", "align": "right", "baseline": "middle", "dx": -1.5, "fontSize": 7, "fontWeight": "bold", "color": "#111"},
 "encoding": {"x": {"field": "lx", "type": "quantitative", "title": "Log₂ ( Δstm1344/WT )"}, "y": {"field": "ly", "type": "quantitative", "title": "−Log₁₀ ( P value )"}, "text": {"field": "gene"}}},
{"data": {"name": "one"}, "mark": {"type": "text", "text": "A", "fontSize": 12, "fontWeight": "bold", "align": "left", "baseline": "alphabetic", "color": "#000"},
 "encoding": {"x": {"datum": -4.424, "type": "quantitative"}, "y": {"datum": 7.107, "type": "quantitative"}}}
]
},
{
"width": 255, "height": 359,
"view": {"stroke": null},
"resolve": {"scale": {"x": "independent", "y": "independent"}, "axis": {"x": "independent", "y": "independent"}},
"layer": [
{"data": {"name": "heat"}, "mark": {"type": "rect", "color": "#dcdcdc"},
 "encoding": {
  "x": {"field": "sample", "type": "nominal", "scale": {"type": "band", "domain": ["WT1","WT2","WT3","D1","D2","D3"], "paddingInner": 0, "paddingOuter": 0}, "axis": null},
  "y": {"field": "gene", "type": "nominal", "scale": {"type": "band", "domain": ["fliA","fliC","fliD","fliF","fliG","fliH","fliI","fliJ","fliK","fliL","fliM","fliN","fliP","fliS","fliT","fliZ","flgC","flgD","flgE","flgF","flgG","flgH","flgI","flgK","flgL","flhE","motA","motB"], "paddingInner": 0, "paddingOuter": 0.5}, "axis": null}
 }},
{"data": {"name": "heat"}, "transform": [{"filter": "isValid(datum.z)"}], "mark": {"type": "rect"},
 "encoding": {
  "x": {"field": "sample", "type": "nominal", "title": null, "scale": {"type": "band", "domain": ["WT1","WT2","WT3","D1","D2","D3"], "paddingInner": 0, "paddingOuter": 0},
        "axis": {"orient": "bottom", "labelExpr": "substring(datum.value, length(datum.value) - 1)", "labelAngle": 0, "ticks": false, "domain": false, "offset": -5.5, "labelPadding": 2, "labelFontSize": 7.5, "labelFontWeight": "bold", "labelColor": "#222"}},
  "y": {"field": "gene", "type": "nominal", "title": null, "scale": {"type": "band", "domain": ["fliA","fliC","fliD","fliF","fliG","fliH","fliI","fliJ","fliK","fliL","fliM","fliN","fliP","fliS","fliT","fliZ","flgC","flgD","flgE","flgF","flgG","flgH","flgI","flgK","flgL","flhE","motA","motB"], "paddingInner": 0, "paddingOuter": 0.5},
        "axis": {"orient": "right", "ticks": false, "domain": false, "labelPadding": 2, "labelFontSize": 7, "labelFontWeight": "bold", "labelColor": "#111"}},
  "color": {"field": "z", "type": "quantitative", "title": null,
            "scale": {"domain": [-1.55, 1.55], "domainMid": 0, "range": ["#0a0a84", "#ffffff", "#cd2626"], "interpolate": "rgb", "clamp": true},
            "legend": {"orient": "none", "legendX": -26, "legendY": 10, "direction": "vertical", "gradientLength": 101, "gradientThickness": 6, "gradientStrokeWidth": 0,
                       "values": [-1, 0, 0.5, 1, 1.5], "format": ".1~f", "labelOverlap": false, "labelFontSize": 6.5, "labelColor": "#333", "labelOffset": 3}}
 }},
{"data": {"name": "table"}, "mark": {"type": "text", "fontSize": 7, "color": "#333", "baseline": "middle"},
 "encoding": {
  "x": {"datum": 7.372, "type": "quantitative", "scale": {"domain": [0, 6], "nice": false, "zero": false}, "axis": null},
  "y": {"field": "gene", "type": "nominal", "scale": {"type": "band", "domain": ["fliA","fliC","fliD","fliF","fliG","fliH","fliI","fliJ","fliK","fliL","fliM","fliN","fliP","fliS","fliT","fliZ","flgC","flgD","flgE","flgF","flgG","flgH","flgI","flgK","flgL","flhE","motA","motB"], "paddingInner": 0, "paddingOuter": 0.5}, "axis": null},
  "text": {"field": "ratio"}
 }},
{"data": {"name": "table"}, "mark": {"type": "text", "fontSize": 7, "color": "#333", "baseline": "middle"},
 "encoding": {
  "x": {"datum": 8.478, "type": "quantitative", "scale": {"domain": [0, 6], "nice": false, "zero": false}, "axis": null},
  "y": {"field": "gene", "type": "nominal", "scale": {"type": "band", "domain": ["fliA","fliC","fliD","fliF","fliG","fliH","fliI","fliJ","fliK","fliL","fliM","fliN","fliP","fliS","fliT","fliZ","flgC","flgD","flgE","flgF","flgG","flgH","flgI","flgK","flgL","flhE","motA","motB"], "paddingInner": 0, "paddingOuter": 0.5}, "axis": null},
  "text": {"field": "pvalue"}
 }},
{"data": {"name": "one"}, "mark": {"type": "text", "fontSize": 8.5, "fontWeight": "bold", "color": "#111", "baseline": "middle", "text": "Ratio"},
 "encoding": {
  "x": {"datum": 7.42, "type": "quantitative", "scale": {"domain": [0, 6], "nice": false, "zero": false}, "axis": null},
  "y": {"datum": 1.031, "type": "quantitative", "scale": {"domain": [0, 1], "nice": false, "zero": false}, "axis": null}
 }},
{"data": {"name": "one"}, "mark": {"type": "text", "fontSize": 6.5, "color": "#333", "baseline": "middle", "text": "(Δstm1344/ wt)"},
 "encoding": {
  "x": {"datum": 7.37, "type": "quantitative", "scale": {"domain": [0, 6], "nice": false, "zero": false}, "axis": null},
  "y": {"datum": 0.998, "type": "quantitative", "scale": {"domain": [0, 1], "nice": false, "zero": false}, "axis": null}
 }},
{"data": {"name": "one"}, "mark": {"type": "text", "fontSize": 8.5, "fontWeight": "bold", "color": "#111", "baseline": "middle", "text": "P Value"},
 "encoding": {
  "x": {"datum": 8.48, "type": "quantitative", "scale": {"domain": [0, 6], "nice": false, "zero": false}, "axis": null},
  "y": {"datum": 1.016, "type": "quantitative", "scale": {"domain": [0, 1], "nice": false, "zero": false}, "axis": null}
 }},
{"data": {"name": "one"}, "mark": {"type": "text", "fontSize": 12, "fontWeight": "bold", "color": "#000", "align": "left", "baseline": "alphabetic", "text": "B"},
 "encoding": {
  "x": {"datum": -0.558, "type": "quantitative", "scale": {"domain": [0, 6], "nice": false, "zero": false}, "axis": null},
  "y": {"datum": 1.0513, "type": "quantitative", "scale": {"domain": [0, 1], "nice": false, "zero": false}, "axis": null}
 }},
{"data": {"name": "groups"}, "mark": {"type": "tick", "orient": "horizontal", "size": 90, "thickness": 0.8, "color": "#333"},
 "encoding": {
  "x": {"field": "group", "type": "nominal", "scale": {"type": "band", "domain": ["WT","Δstm1344"], "paddingInner": 0, "paddingOuter": 0}, "axis": null},
  "y": {"datum": -0.029, "type": "quantitative", "scale": {"domain": [0, 1], "nice": false, "zero": false}, "axis": null}
 }},
{"data": {"name": "groups"}, "mark": {"type": "text", "fontSize": 8.5, "fontWeight": "bold", "color": "#111", "baseline": "middle"},
 "encoding": {
  "x": {"field": "group", "type": "nominal", "scale": {"type": "band", "domain": ["WT","Δstm1344"], "paddingInner": 0, "paddingOuter": 0}, "axis": null},
  "y": {"datum": -0.058, "type": "quantitative", "scale": {"domain": [0, 1], "nice": false, "zero": false}, "axis": null},
  "text": {"field": "group"}
 }}
]
}
]
}
